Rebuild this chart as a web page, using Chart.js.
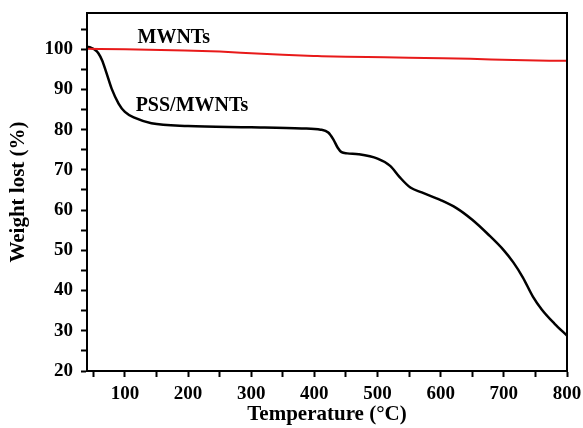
<!DOCTYPE html>
<html>
<head>
<meta charset="utf-8">
<script src="https://cdn.jsdelivr.net/npm/chart.js@4/dist/chart.umd.min.js"></script>
<style>
  body { margin: 0; background: #fff; }
  #wrap { width: 583px; height: 428px; }
</style>
</head>
<body>
<div id="wrap"><canvas id="tga"></canvas></div>
<script>
// PSS/MWNTs (black)
var pssTemp = [40, 46, 52, 58, 64, 70, 79, 90, 100, 116, 142, 200, 300, 380, 410, 422, 430, 437, 443, 452, 470, 500, 520, 535, 552, 570, 600, 625, 650, 675, 700, 715, 730, 746, 760, 780, 800];
var pssWeight = [100.6, 100.4, 99.9, 99.0, 97.2, 94.5, 90.2, 86.5, 84.4, 82.9, 81.6, 80.9, 80.6, 80.3, 80.0, 79.3, 77.6, 75.5, 74.4, 74.1, 73.9, 72.8, 71.0, 68.2, 65.6, 64.4, 62.5, 60.5, 57.6, 54.0, 50.0, 47.0, 43.3, 38.5, 35.3, 31.8, 28.8];

// MWNTs (red)
var mwTemp = [40, 100, 195, 250, 300, 350, 405, 450, 511, 575, 647, 715, 800];
var mwWeight = [100.1, 100.0, 99.7, 99.4, 99.0, 98.6, 98.3, 98.1, 98.0, 97.8, 97.6, 97.3, 97.1];

var xTicks = [50, 100, 150, 200, 250, 300, 350, 400, 450, 500, 550, 600, 650, 700, 750, 800];
var yTicks = [20, 25, 30, 35, 40, 45, 50, 55, 60, 65, 70, 75, 80, 85, 90, 95, 100, 105];

var fontFam = '"Liberation Serif", "Times New Roman", serif';

function toPts(xs, ys) {
  return xs.map(function (x, i) { return { x: x, y: ys[i] }; });
}

// curve names, placed in data coords
var curveLabels = [
  { text: "MWNTs", x: 120, y: 101.6 },
  { text: "PSS/MWNTs", x: 117, y: 84.6 }
];

var framePlugin = {
  id: "frame",
  afterDraw: function (chart) {
    var ctx = chart.ctx, a = chart.chartArea;
    ctx.save();
    ctx.strokeStyle = "#000";
    ctx.lineWidth = 2;
    ctx.strokeRect(a.left, a.top, a.right - a.left, a.bottom - a.top);
    ctx.fillStyle = "#000";
    ctx.font = "bold 20px " + fontFam;
    ctx.textBaseline = "alphabetic";
    curveLabels.forEach(function (l) {
      ctx.fillText(l.text, chart.scales.x.getPixelForValue(l.x), chart.scales.y.getPixelForValue(l.y));
    });
    ctx.restore();
  }
};

new Chart("tga", {
  type: "line",
  data: {
    datasets: [{
      label: "MWNTs",
      data: toPts(mwTemp, mwWeight),
      borderColor: "#e81a1a",
      borderWidth: 2,
      pointRadius: 0,
      cubicInterpolationMode: "monotone"
    }, {
      label: "PSS/MWNTs",
      data: toPts(pssTemp, pssWeight),
      borderColor: "#000",
      borderWidth: 2.5,
      pointRadius: 0,
      cubicInterpolationMode: "monotone"
    }]
  },
  options: {
    responsive: true,
    maintainAspectRatio: false,
    animation: false,
    layout: { padding: { top: 13, right: 16, left: 0, bottom: 0 } },
    plugins: { legend: { display: false }, tooltip: { enabled: false } },
    scales: {
      x: {
        type: "linear",
        min: 40,
        max: 800,
        afterBuildTicks: function (s) { s.ticks = xTicks.map(function (v) { return { value: v }; }); },
        afterFit: function (s) { s.height = 57; s.paddingLeft = 0; s.paddingRight = 0; },
        ticks: {
          autoSkip: false,
          maxRotation: 0,
          padding: 6,
          color: "#000",
          font: { family: fontFam, size: 19, weight: "bold" },
          callback: function (v) { return v % 100 === 0 ? v : ""; }
        },
        grid: { drawOnChartArea: false, drawTicks: true, tickLength: 6, tickColor: "#000", tickWidth: 2 },
        border: { color: "#000", width: 2 },
        title: {
          display: true,
          text: "Temperature (°C)",
          color: "#000",
          font: { family: fontFam, size: 21, weight: "bold" },
          padding: { top: 0, bottom: 1 }
        }
      },
      y: {
        min: 20,
        max: 109,
        afterBuildTicks: function (s) { s.ticks = yTicks.map(function (v) { return { value: v }; }); },
        afterFit: function (s) { s.width = 87; s.paddingTop = 0; s.paddingBottom = 0; },
        ticks: {
          autoSkip: false,
          padding: 8,
          color: "#000",
          font: { family: fontFam, size: 19, weight: "bold" },
          callback: function (v) { return v % 10 === 0 ? v : ""; }
        },
        grid: { drawOnChartArea: false, drawTicks: true, tickLength: 6, tickColor: "#000", tickWidth: 2 },
        border: { color: "#000", width: 2 },
        title: {
          display: true,
          text: "Weight lost (%)",
          color: "#000",
          font: { family: fontFam, size: 21, weight: "bold" },
          padding: { top: 6, bottom: 0 }
        }
      }
    }
  },
  plugins: [framePlugin]
});
</script>
</body>
</html>
